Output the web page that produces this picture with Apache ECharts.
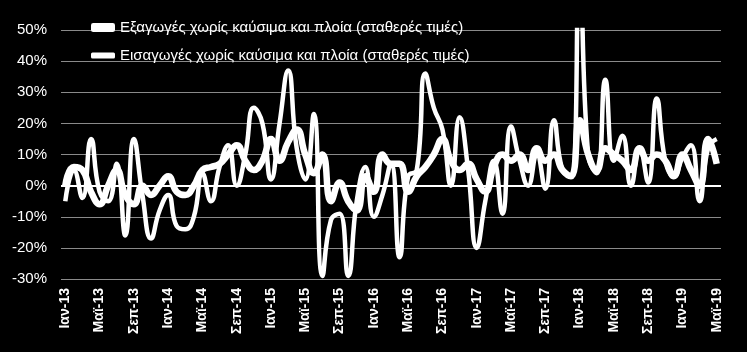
<!DOCTYPE html>
<html>
<head>
    <meta charset="utf-8">
    <title>Εξαγωγές - Εισαγωγές</title>
    <script src="https://cdn.jsdelivr.net/npm/echarts@6/dist/echarts.min.js"></script>
    <style>
        html, body { margin: 0; padding: 0; background: #000; }
        #chart { width: 747px; height: 352px; }
    </style>
</head>
<body>
<div id="chart"></div>
<script>
    // μήνες / έτη για τις ετικέτες του άξονα x
    var monthNames = ['Ιαν', 'Φεβ', 'Μαρ', 'Απρ', 'Μαϊ', 'Ιουν', 'Ιουλ', 'Αυγ', 'Σεπ', 'Οκτ', 'Νοε', 'Δεκ'];
    var startYear = 13, monthCount = 77; // Ιαν-13 ... Μαϊ-19

    var categories = [];
    for (var i = 0; i < monthCount; i++) {
        categories.push(monthNames[i % 12] + '-' + (startYear + Math.floor(i / 12)));
    }

    // Εξαγωγές χωρίς καύσιμα και πλοία (%, ετήσια μεταβολή)
    var exportsData = [
        0, 6, 5, -2, -6, 0, 5, -3, -6, 0, -3, 0,
        3, -2, -3, 0, 5, 6, 7, 10, 13, 8, 5, 8,
        15, 8, 14, 18, 10, 4, 10, -5, 1, -5, -8, 3,
        -2, 10, 7, 7, -2, 3, 6, 10, 15, 8, 5, 7,
        2, -2, 6, 10, 8, 10, 5, 12, 8, 10, 5, 3,
        21, 10, 5, 12, 10, 8, 5, 12, 8, 10, 8, 3,
        10, 5, 0, 15, 7
    ];

    // Εισαγωγές χωρίς καύσιμα και πλοία (%, ετήσια μεταβολή)
    var importsData = [
        -5, 5, -4, 15, -2, -5, 7, -16, 15, -3, -17, -8,
        -3, -13, -14, -10, 4, -5, 6, 13, 0, 10, 25, 20,
        2, 20, 37, 12, 2, 23, -29, -11, -9, -29, -5, 6,
        -10, -3, 7, -23, 3, 5, 36, 25, 18, 0, 22, 5,
        -20, -5, 8, -9, 19, 8, 0, 10, -1, 21, 5, 3,
        70, 10, 4, 34, 8, 16, 0, 12, 1, 28, 8, 3,
        9, 13, -5, 12, 15
    ];

    var seriesNames = [
        'Εξαγωγές χωρίς καύσιμα και πλοία (σταθερές τιμές)',
        'Εισαγωγές χωρίς καύσιμα και πλοία (σταθερές τιμές)'
    ];

    var chart = echarts.init(document.getElementById('chart'));
    var font = '"Liberation Sans", Arial, sans-serif';

    var option = {
        backgroundColor: '#000',
        animation: false,
        textStyle: { fontFamily: font },
        legend: [
            {
                data: [seriesNames[0]],
                left: 86, top: 15,
                icon: 'roundRect',
                itemWidth: 24, itemHeight: 9,
                textStyle: { color: '#fff', fontSize: 15, fontFamily: font },
                itemGap: 6
            },
            {
                data: [seriesNames[1]],
                left: 86, top: 43,
                icon: 'roundRect',
                itemWidth: 24, itemHeight: 6,
                textStyle: { color: '#fff', fontSize: 15, fontFamily: font },
                itemGap: 6
            }
        ],
        grid: { left: 61, right: 26, top: 30, bottom: 73 },
        xAxis: {
            type: 'category',
            data: categories,
            boundaryGap: true,
            axisLine: { show: false },
            axisTick: { show: false },
            axisLabel: {
                interval: 3,
                rotate: 90,
                color: '#fff',
                fontSize: 14,
                fontWeight: 'bold',
                fontFamily: font,
                margin: 9
            }
        },
        yAxis: {
            type: 'value',
            min: -30, max: 50, interval: 10,
            axisLine: { show: false },
            axisTick: { show: false },
            axisLabel: {
                color: '#fff',
                fontSize: 15,
                fontFamily: font,
                margin: 14,
                formatter: '{value}%'
            },
            splitLine: { lineStyle: { color: '#8a8a8a', width: 1 } }
        },
        series: [
            {
                name: seriesNames[0],
                type: 'line',
                data: exportsData,
                smooth: true,
                symbol: 'none',
                color: '#fff',
                lineStyle: { color: '#fff', width: 6.5 },
                markLine: {
                    silent: true,
                    symbol: 'none',
                    label: { show: false },
                    lineStyle: { color: '#fff', width: 2, type: 'solid' },
                    data: [{ yAxis: 0 }]
                }
            },
            {
                name: seriesNames[1],
                type: 'line',
                data: importsData,
                smooth: true,
                symbol: 'none',
                color: '#fff',
                lineStyle: { color: '#fff', width: 4.5 }
            }
        ]
    };

    chart.setOption(option);
</script>
</body>
</html>
